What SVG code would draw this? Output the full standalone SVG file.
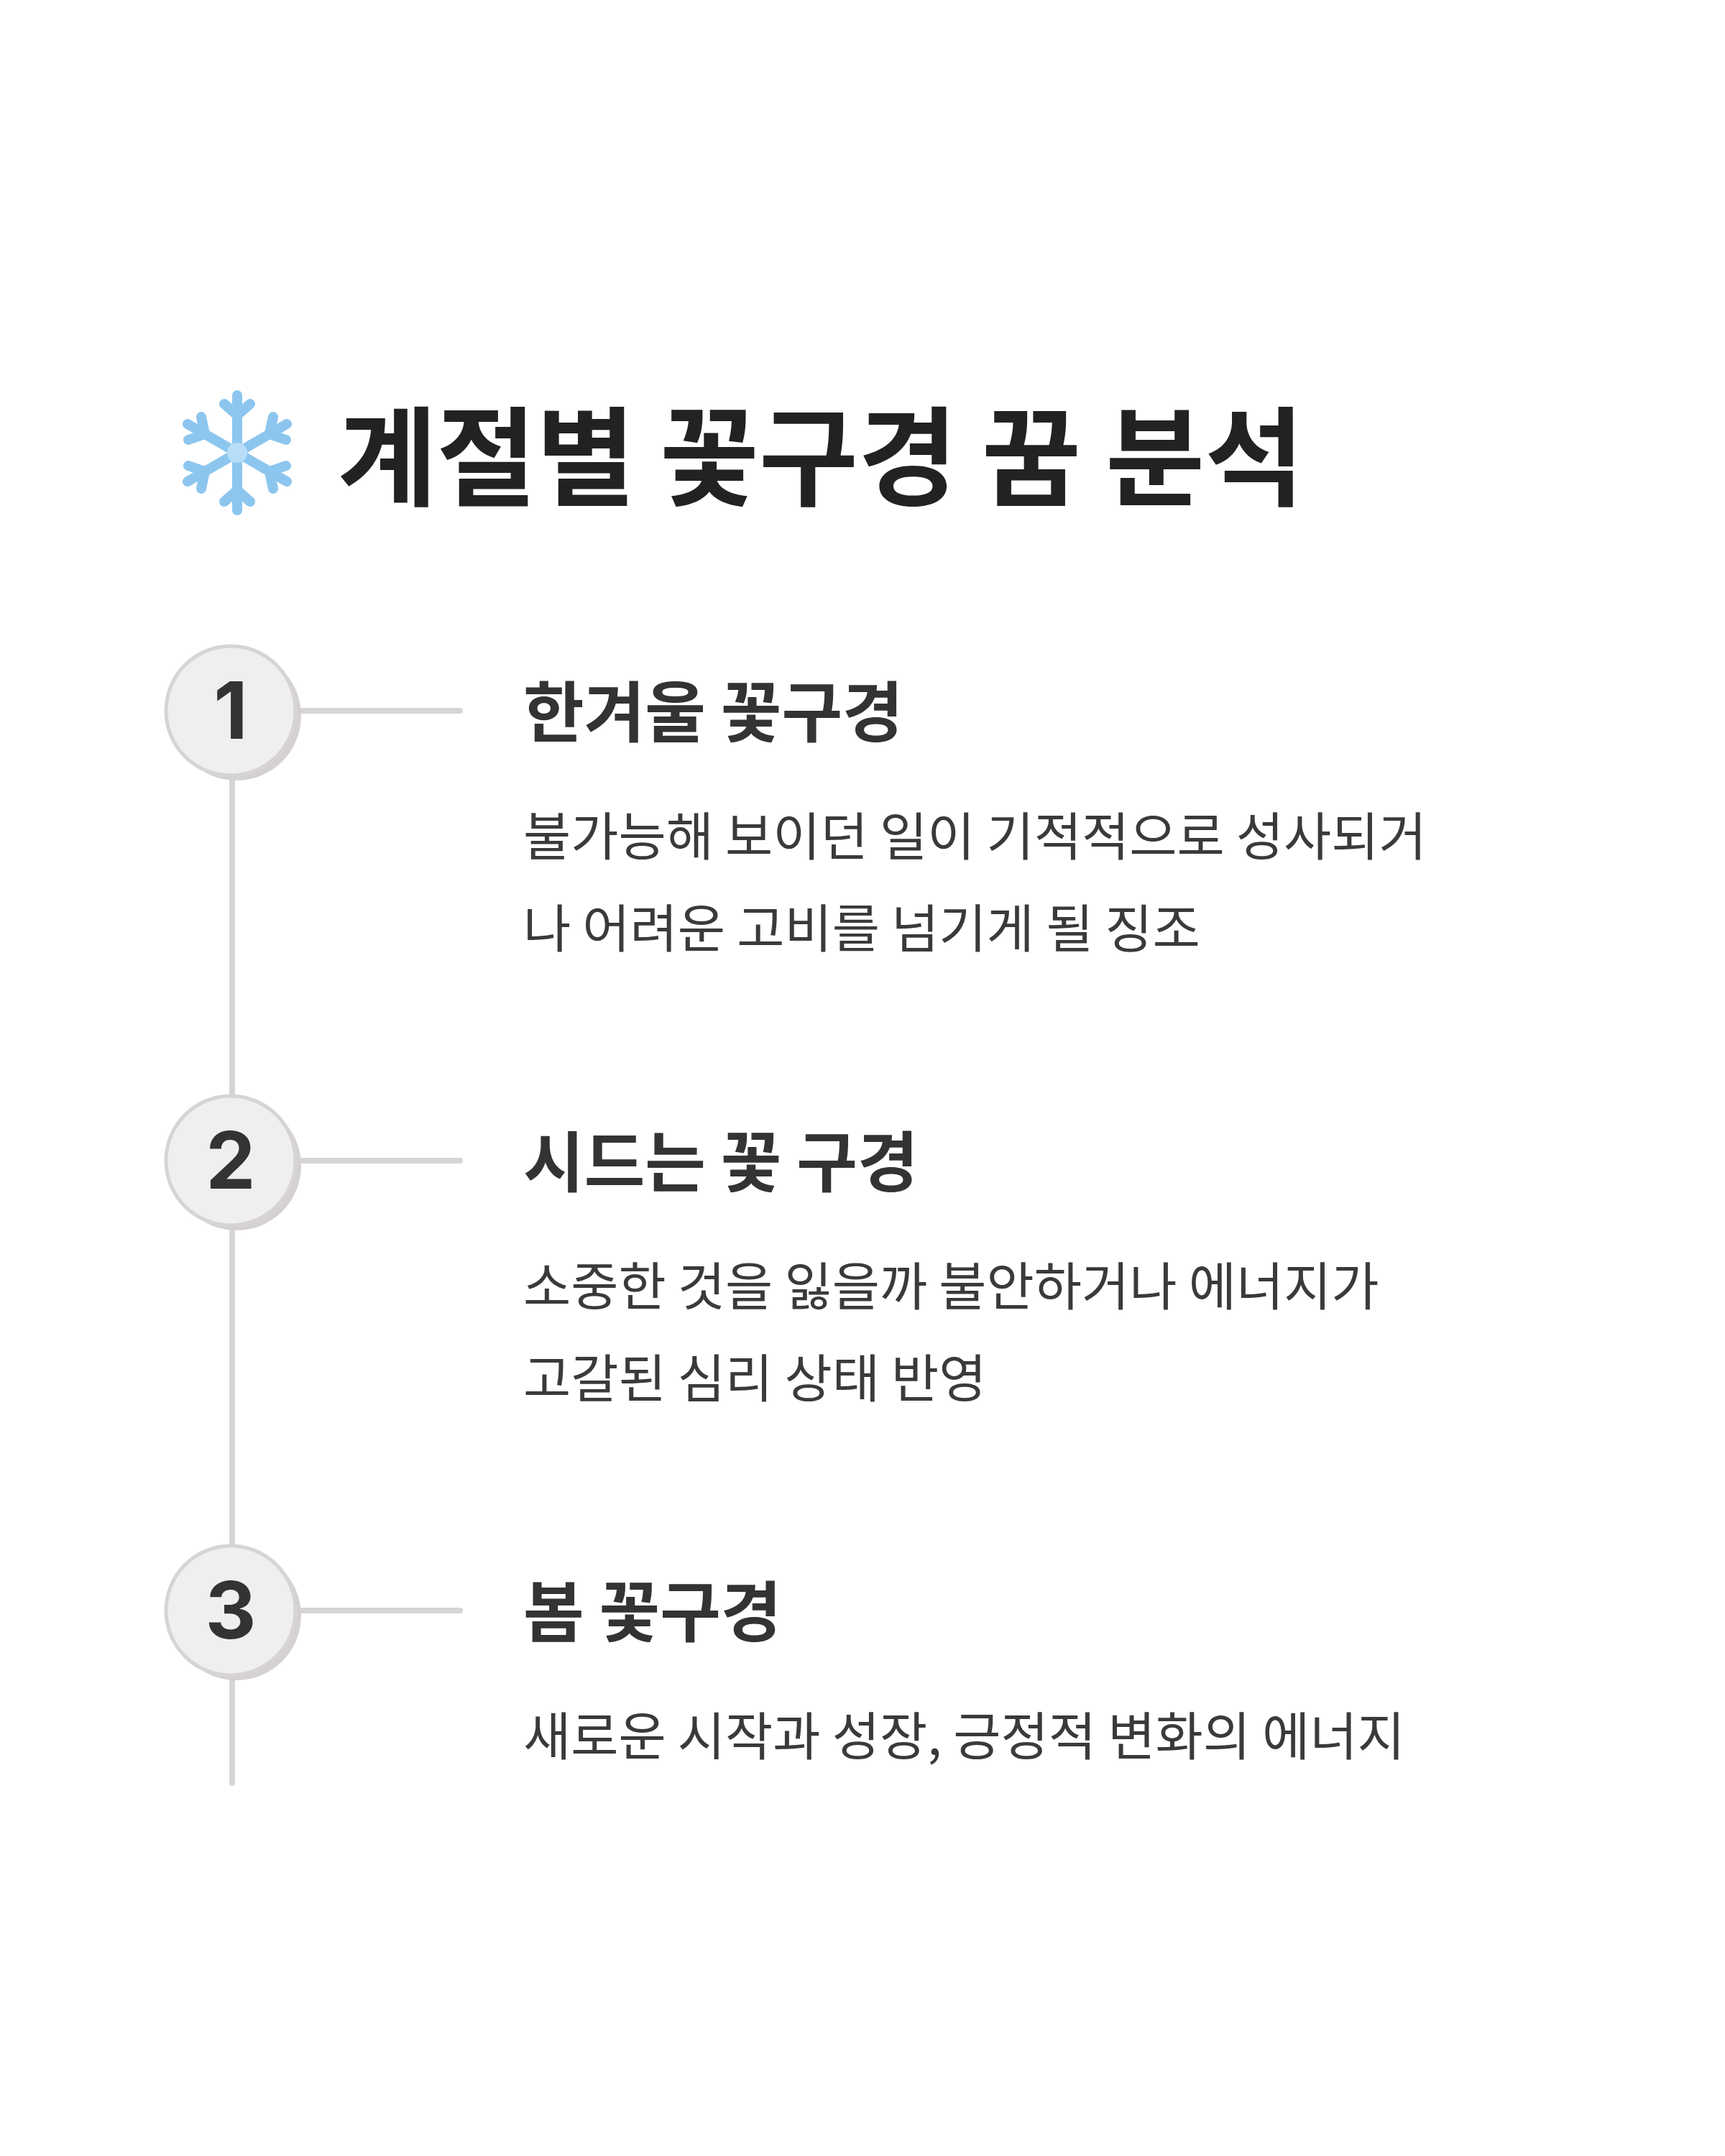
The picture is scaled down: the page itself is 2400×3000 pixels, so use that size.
<svg xmlns="http://www.w3.org/2000/svg" width="2400" height="3000" viewBox="0 0 2400 3000">
<defs>
<style>
.t{font-family:"Noto Sans CJK KR","Noto Sans",sans-serif;fill:#222;font-weight:700}
.h{font-family:"Noto Sans CJK KR",sans-serif;fill:#333;font-weight:700;font-size:92px}
.b{font-family:"Noto Sans CJK KR",sans-serif;fill:#3a3a3a;font-weight:400;font-size:72px}
.n{font-family:"Inter","Liberation Sans",sans-serif;fill:#333;font-weight:700;font-size:110px;text-anchor:middle}
.ln{stroke:#d6d4d4;stroke-width:8;stroke-linecap:round}
.c{fill:#f1efee;stroke:#d6d4d4;stroke-width:5}
.sh{fill:#d4d1d0}
.sf{stroke:#8cc6ee;stroke-width:14;stroke-linecap:round;fill:none}
</style>
</defs>
<rect width="2400" height="3000" fill="#fff"/>
<g id="title">
<g transform="translate(330,630)">
<g class="sf">
<line x1="0" y1="-80" x2="0" y2="80"/>
<line x1="-69" y1="-40" x2="69" y2="40"/>
<line x1="-69" y1="40" x2="69" y2="-40"/>
<path d="M-18,-68 L0,-52 L18,-68 M-18,68 L0,52 L18,68"/>
<path d="M-68,-18 L-45,-26 L-50,-50 M68,18 L45,26 L50,50"/>
<path d="M-68,18 L-45,26 L-50,50 M68,-18 L45,-26 L50,-50"/>
</g>
<circle r="14" fill="#b8def7"/>
</g>
<text class="t" x="470" y="692" font-size="150">계절별 꽃구경 꿈 분석</text>
</g>
<g id="connectors">
<line class="ln" x1="323" y1="1080" x2="323" y2="1525"/>
<line class="ln" x1="323" y1="1705" x2="323" y2="2150"/>
<line class="ln" x1="323" y1="2330" x2="323" y2="2481"/>
<line class="ln" x1="413" y1="989" x2="640" y2="989"/>
<line class="ln" x1="413" y1="1615" x2="640" y2="1615"/>
<line class="ln" x1="413" y1="2241" x2="640" y2="2241"/>
</g>
<g id="step1">
<circle class="sh" cx="329" cy="996" r="90"/>
<circle class="c" cx="321" cy="989" r="90"/>
<text class="n" x="321" y="1028">1</text>
<text class="h" x="728" y="1025">한겨울 꽃구경</text>
<text class="b" x="728" y="1190">불가능해 보이던 일이 기적적으로 성사되거</text>
<text class="b" x="728" y="1318">나 어려운 고비를 넘기게 될 징조</text>
</g>
<g id="step2">
<circle class="sh" cx="329" cy="1622" r="90"/>
<circle class="c" cx="321" cy="1615" r="90"/>
<text class="n" x="321" y="1654">2</text>
<text class="h" x="728" y="1651">시드는 꽃 구경</text>
<text class="b" x="728" y="1816">소중한 것을 잃을까 불안하거나 에너지가</text>
<text class="b" x="728" y="1944">고갈된 심리 상태 반영</text>
</g>
<g id="step3">
<circle class="sh" cx="329" cy="2248" r="90"/>
<circle class="c" cx="321" cy="2241" r="90"/>
<text class="n" x="321" y="2280">3</text>
<text class="h" x="728" y="2277">봄 꽃구경</text>
<text class="b" x="728" y="2442">새로운 시작과 성장, 긍정적 변화의 에너지</text>
</g>
</svg>
